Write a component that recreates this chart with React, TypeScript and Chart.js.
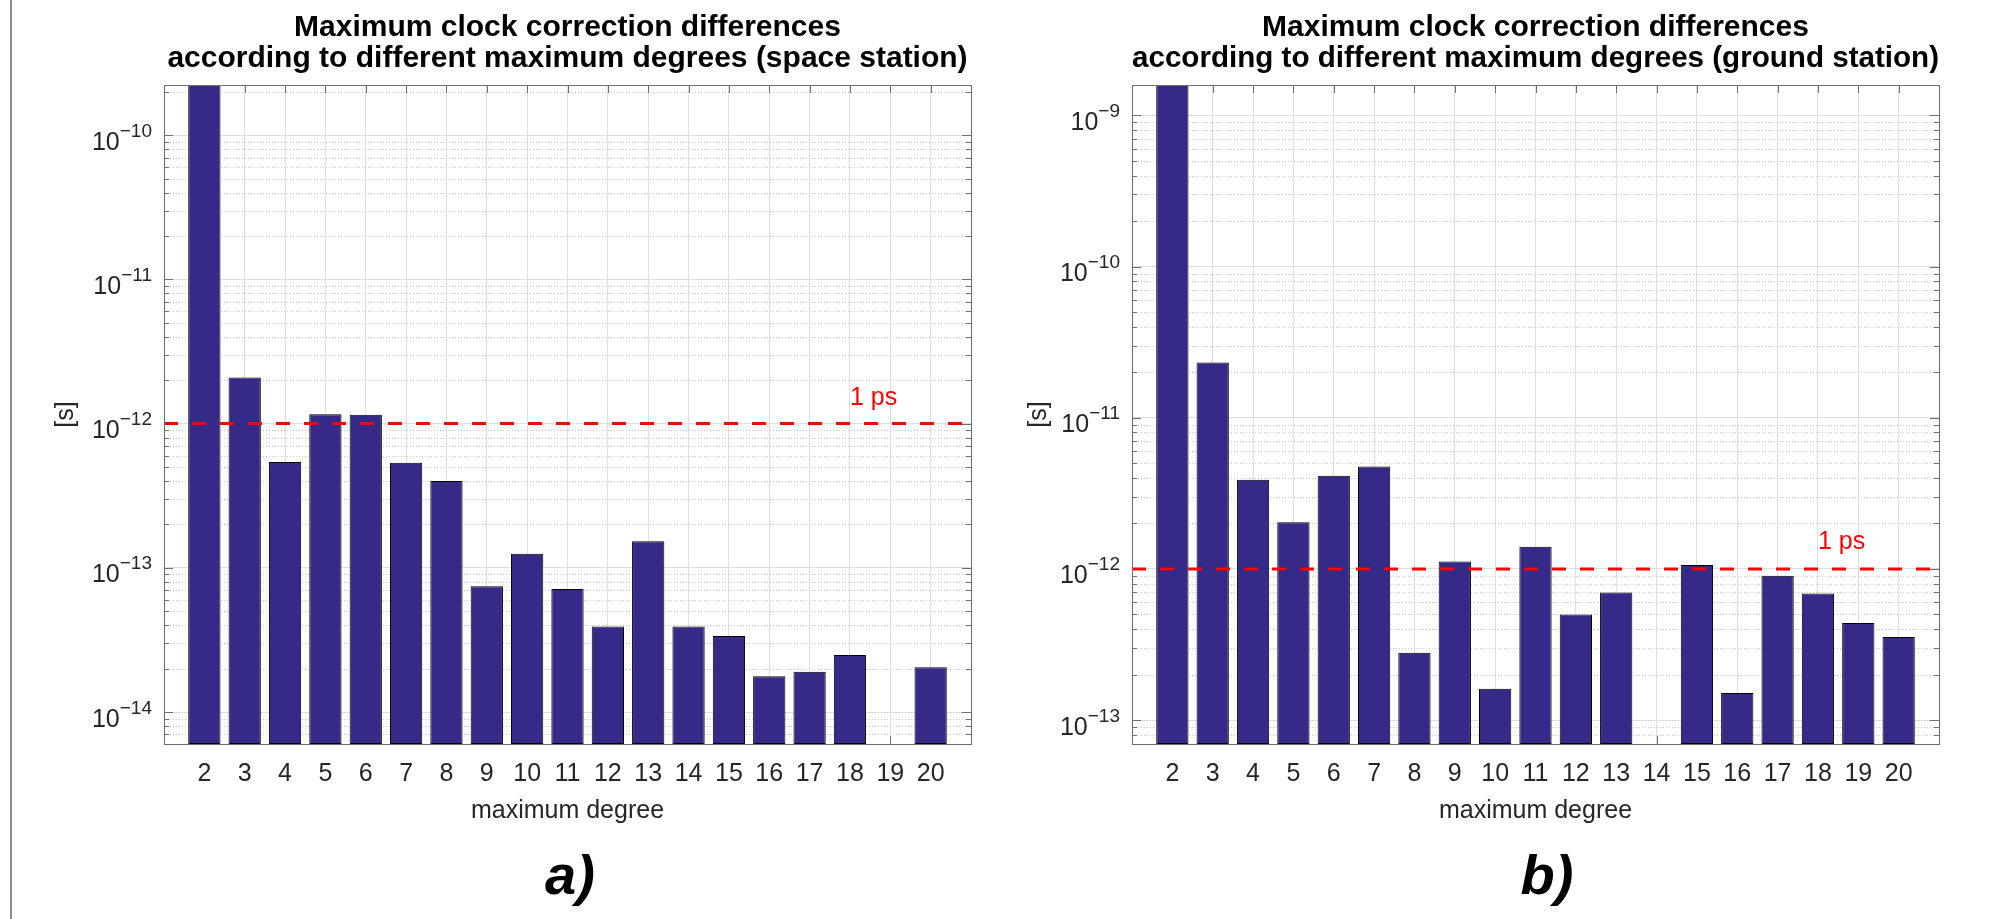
import React, { useEffect, useRef } from 'react';
import { Chart, registerables } from 'chart.js';

Chart.register(...registerables);

const FONT = "'Liberation Sans', Arial, Helvetica, sans-serif";
const TEXT_COLOR = '#262626';
const AXIS_COLOR = '#6e6e6e';
const GRID_MAJOR = '#dedede';
const GRID_MINOR = '#c6c6c6';
const BAR_COLOR = '#352a87';
const THRESHOLD_COLOR = '#ff0000';

// ---- data ----
const degrees = [2, 3, 4, 5, 6, 7, 8, 9, 10, 11, 12, 13, 14, 15, 16, 17, 18, 19, 20];
const degreeTickLabels = ['2', '3', '4', '5', '6', '7', '8', '9', '10', '11', '12', '13', '14', '15', '16', '17', '18', '19', '20'];

const spaceStationDiff = [
  3.5e-10, 2.09e-12, 5.42e-13, 1.16e-12, 1.15e-12, 5.36e-13, 4.0e-13, 7.44e-14, 1.25e-13, 7.13e-14,
  3.92e-14, 1.53e-13, 3.92e-14, 3.37e-14, 1.77e-14, 1.9e-14, 2.49e-14, null, 2.04e-14,
];
const groundStationDiff = [
  2.5e-9, 2.32e-11, 3.89e-12, 2.04e-12, 4.14e-12, 4.77e-12, 2.79e-13, 1.12e-12, 1.61e-13, 1.4e-12,
  5.0e-13, 6.98e-13, null, 1.06e-12, 1.51e-13, 9.0e-13, 6.88e-13, 4.39e-13, 3.55e-13,
];

const spaceTickExponents = [-14, -13, -12, -11, -10];
const groundTickExponents = [-13, -12, -11, -10, -9];
const spaceYRange = [6.4e-15, 2.23e-10];
const groundYRange = [6.95e-14, 1.59e-9];
const xRange = [1, 21];

const thresholdValue = 1e-12;
const thresholdLabel = '1 ps';
const thresholdLabelAt = [18, 1.5e-12];

const spaceTitle = ['Maximum clock correction differences', 'according to different maximum degrees (space station)'];
const groundTitle = ['Maximum clock correction differences', 'according to different maximum degrees (ground station)'];
const xAxisTitle = 'maximum degree';
const yAxisTitle = '[s]';

// ---- plugin for MATLAB-like axes ----
const matlabAxes = {
  id: 'matlabAxes',
  beforeDatasetsDraw(chart: any) {
    const { ctx, chartArea: a } = chart;
    const x = chart.scales.x;
    const y = chart.scales.y;
    ctx.save();
    ctx.lineWidth = 1;
    ctx.strokeStyle = GRID_MINOR;
    ctx.setLineDash([1, 2]);
    ctx.beginPath();
    for (const t of y.ticks) {
      if (t.major) continue;
      const py = Math.round(y.getPixelForValue(t.value)) + 0.5;
      ctx.moveTo(a.left, py);
      ctx.lineTo(a.right, py);
    }
    ctx.stroke();
    ctx.setLineDash([]);
    ctx.strokeStyle = AXIS_COLOR;
    ctx.beginPath();
    for (const t of y.ticks) {
      const py = Math.round(y.getPixelForValue(t.value)) + 0.5;
      const len = t.major ? 9 : 5;
      ctx.moveTo(a.left, py);
      ctx.lineTo(a.left + len, py);
      ctx.moveTo(a.right, py);
      ctx.lineTo(a.right - len, py);
    }
    for (const t of x.ticks) {
      const px = Math.round(x.getPixelForValue(t.value)) + 0.5;
      ctx.moveTo(px, a.bottom);
      ctx.lineTo(px, a.bottom - 8);
      ctx.moveTo(px, a.top);
      ctx.lineTo(px, a.top + 8);
    }
    ctx.stroke();
    ctx.restore();
  },
  afterDatasetsDraw(chart: any, _args: any, opts: any) {
    const { ctx, chartArea: a } = chart;
    const x = chart.scales.x;
    const y = chart.scales.y;
    ctx.save();
    ctx.strokeStyle = AXIS_COLOR;
    ctx.lineWidth = 1;
    ctx.strokeRect(Math.round(a.left) + 0.5, Math.round(a.top) + 0.5, Math.round(a.right - a.left), Math.round(a.bottom - a.top));

    // y tick labels with superscript exponents
    ctx.fillStyle = TEXT_COLOR;
    ctx.textAlign = 'left';
    ctx.textBaseline = 'alphabetic';
    for (const e of opts.exponents) {
      const py = y.getPixelForValue(Math.pow(10, e));
      const expText = '\u2212' + Math.abs(e);
      ctx.font = `19px ${FONT}`;
      const ew = ctx.measureText(expText).width;
      ctx.font = `25px ${FONT}`;
      const bw = ctx.measureText('10').width;
      const right = a.left - 12;
      ctx.fillText('10', right - ew - bw, py + 14.5);
      ctx.font = `19px ${FONT}`;
      ctx.fillText(expText, right - ew, py + 1.5);
    }

    // threshold label
    ctx.fillStyle = THRESHOLD_COLOR;
    ctx.font = `25px ${FONT}`;
    ctx.textAlign = 'left';
    ctx.textBaseline = 'middle';
    ctx.fillText(opts.label, x.getPixelForValue(opts.labelAt[0]), y.getPixelForValue(opts.labelAt[1]));
    ctx.restore();
  },
};

type PanelProps = {
  title: string[];
  values: (number | null)[];
  exponents: number[];
  yRange: number[];
  yWidth: number;
  yTitlePad: number;
  padRight: number;
};

function makeConfig(p: PanelProps): any {
  return {
    type: 'bar',
    data: {
      datasets: [
        {
          type: 'line',
          data: [
            { x: xRange[0], y: thresholdValue },
            { x: xRange[1], y: thresholdValue },
          ],
          borderColor: THRESHOLD_COLOR,
          borderWidth: 3,
          borderDash: [14, 14],
          pointRadius: 0,
          fill: false,
          order: 0,
        },
        {
          type: 'bar',
          data: degrees.map((d, i) => ({ x: d, y: p.values[i] })),
          backgroundColor: BAR_COLOR,
          borderColor: '#000000',
          borderWidth: 1,
          borderSkipped: false,
          barPercentage: 0.8,
          categoryPercentage: 1,
          order: 1,
        },
      ],
    },
    options: {
      animation: false,
      responsive: false,
      events: [],
      layout: { padding: { top: 0, left: 0, right: p.padRight, bottom: 0 } },
      plugins: {
        legend: { display: false },
        tooltip: { enabled: false },
        title: {
          display: true,
          text: p.title,
          color: '#000000',
          fullSize: false,
          font: { family: FONT, size: 30, weight: 'bold', lineHeight: 1.02 },
          padding: { top: 12.7, bottom: 11.1 },
        },
        matlabAxes: { exponents: p.exponents, label: thresholdLabel, labelAt: thresholdLabelAt },
      },
      scales: {
        x: {
          type: 'linear',
          min: xRange[0],
          max: xRange[1],
          offset: false,
          afterBuildTicks: (s: any) => {
            s.ticks = degrees.map((v) => ({ value: v }));
          },
          afterFit: (s: any) => {
            s.height = 175;
          },
          ticks: {
            autoSkip: false,
            maxRotation: 0,
            padding: 15,
            color: TEXT_COLOR,
            font: { family: FONT, size: 25 },
            callback: (v: number) => degreeTickLabels[degrees.indexOf(v)] ?? '',
          },
          grid: { color: GRID_MAJOR, drawTicks: false, offset: false },
          border: { display: true, color: AXIS_COLOR },
          title: {
            display: true,
            text: xAxisTitle,
            color: TEXT_COLOR,
            font: { family: FONT, size: 25 },
            padding: { top: 0, bottom: 93 },
          },
        },
        y: {
          type: 'logarithmic',
          min: p.yRange[0],
          max: p.yRange[1],
          afterBuildTicks: (s: any) => {
            const ticks: any[] = [];
            const lo = Math.min(...p.exponents) - 1;
            const hi = Math.max(...p.exponents);
            for (let e = lo; e <= hi; e++) {
              for (let m = 1; m <= 9; m++) {
                const v = m * Math.pow(10, e);
                if (v >= p.yRange[0] && v <= p.yRange[1]) ticks.push({ value: v, major: m === 1 });
              }
            }
            s.ticks = ticks;
          },
          afterFit: (s: any) => {
            s.width = p.yWidth;
          },
          ticks: { display: false },
          grid: {
            drawTicks: false,
            color: (c: any) => (c.tick && c.tick.major ? GRID_MAJOR : 'rgba(0,0,0,0)'),
          },
          border: { display: true, color: AXIS_COLOR },
          title: {
            display: true,
            text: yAxisTitle,
            color: TEXT_COLOR,
            font: { family: FONT, size: 25 },
            padding: { top: p.yTitlePad, bottom: 0 },
          },
        },
      },
    },
    plugins: [matlabAxes],
  };
}

function Panel(props: PanelProps & { left: number }) {
  const ref = useRef<HTMLCanvasElement | null>(null);
  useEffect(() => {
    if (!ref.current) return;
    const chart = new Chart(ref.current, makeConfig(props));
    return () => chart.destroy();
  }, []);
  return (
    <canvas
      ref={ref}
      width={998}
      height={919}
      style={{ position: 'absolute', left: props.left, top: 0, width: 998, height: 919, display: 'block' }}
    />
  );
}

const panelLabelStyle: React.CSSProperties = {
  position: 'absolute',
  top: 847,
  width: 200,
  textAlign: 'center',
  fontFamily: FONT,
  fontWeight: 'bold',
  fontStyle: 'italic',
  fontSize: 56,
  lineHeight: '56px',
  color: '#000',
};

export default function App() {
  return (
    <div
      style={{
        position: 'fixed',
        left: 0,
        top: 0,
        width: 1996,
        height: 919,
        background: '#ffffff',
        overflow: 'hidden',
      }}
    >
      <div style={{ position: 'absolute', left: 10, top: 0, width: 2, height: 919, background: '#8a8a8a' }} />
      <Panel
        left={0}
        title={spaceTitle}
        values={spaceStationDiff}
        exponents={spaceTickExponents}
        yRange={spaceYRange}
        yWidth={164}
        yTitlePad={51}
        padRight={27}
      />
      <Panel
        left={998}
        title={groundTitle}
        values={groundStationDiff}
        exponents={groundTickExponents}
        yRange={groundYRange}
        yWidth={134}
        yTitlePad={25.7}
        padRight={57}
      />
      <div style={{ ...panelLabelStyle, left: 470 }}>a)</div>
      <div style={{ ...panelLabelStyle, left: 1447 }}>b)</div>
    </div>
  );
}
